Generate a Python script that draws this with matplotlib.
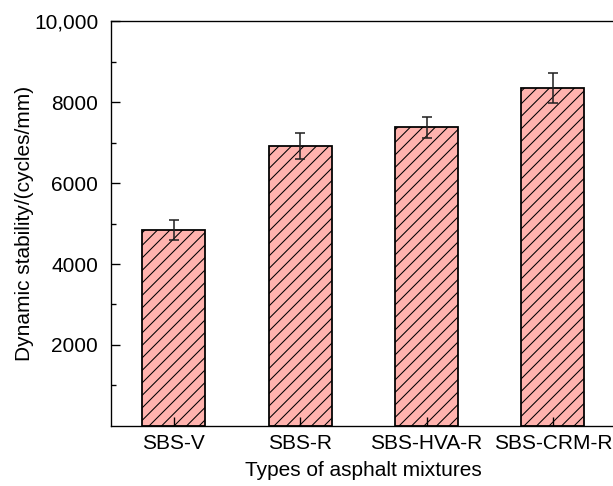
import matplotlib
matplotlib.use("Agg")
import matplotlib.pyplot as plt
import numpy as np

# values
mixtures = ["SBS-V", "SBS-R", "SBS-HVA-R", "SBS-CRM-R"]
stability = [4850, 6925, 7380, 8355]
stability_err = [250, 320, 265, 360]
ytick_vals = [2000, 4000, 6000, 8000, 10000]
ytick_text = ["2000", "4000", "6000", "8000", "10,000"]

DPI = 150
plt.rcParams["font.family"] = ["Liberation Sans", "DejaVu Sans"]
plt.rcParams["font.size"] = 10
plt.rcParams["hatch.linewidth"] = 0.5


def main():
    fig = plt.figure(figsize=(613 / DPI, 486 / DPI), dpi=DPI)
    ax = fig.add_axes([0.1806, 0.1241, 1.005 - 0.1806, 0.9558 - 0.1241])

    x = np.arange(len(mixtures))
    ax.bar(x, stability, width=0.5, color="#FFB3AE", edgecolor="black",
           linewidth=0.85, hatch="////")
    ax.errorbar(x, stability, yerr=stability_err, fmt="none", ecolor="#222222",
                elinewidth=0.75, capsize=2.2, capthick=0.75)

    ax.set_xlim(-0.5, 3.5)
    ax.set_ylim(0, 10000)
    ax.set_xticks(x)
    ax.set_xticklabels(mixtures)
    ax.set_yticks(ytick_vals)
    ax.set_yticklabels(ytick_text)
    ax.set_yticks([1000, 3000, 5000, 7000, 9000], minor=True)

    ax.tick_params(axis="both", which="major", direction="in", length=4.3,
                   width=0.65)
    ax.tick_params(axis="y", which="minor", direction="in", length=2.2,
                   width=0.65)
    ax.tick_params(axis="y", pad=6)
    ax.tick_params(axis="x", pad=4)
    for side in ax.spines.values():
        side.set_linewidth(0.65)

    ax.set_xlabel("Types of asphalt mixtures", labelpad=4)
    ax.set_ylabel("Dynamic stability/(cycles/mm)", labelpad=0)

    fig.savefig("out.png", dpi=DPI)
    plt.close(fig)


if __name__ == "__main__":
    main()
